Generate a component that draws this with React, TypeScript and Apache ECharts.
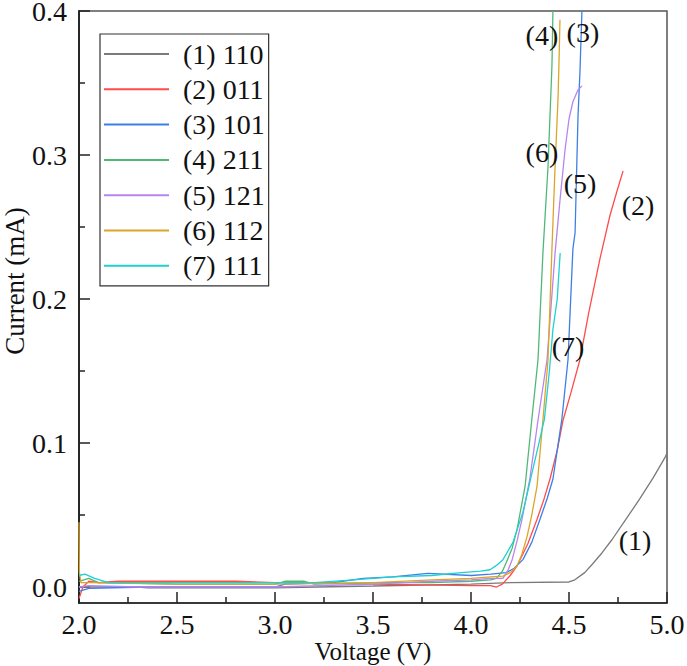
import React, { useEffect, useRef } from "react";
import * as echarts from "echarts";

const seriesNames = ["(1) 110", "(2) 011", "(3) 101", "(4) 211", "(5) 121", "(6) 112", "(7) 111"];
const seriesColors = ["#7a7a7a", "#ff4b4b", "#3d7fe6", "#4fb878", "#b884ee", "#dba628", "#1fd0d0"];

const s1: number[][] = [[2.0,0.0],[2.3,0.0],[2.35,-0.0005],[3.0,-0.0005],[3.5,0.0007],[4.0,0.002],[4.2,0.003],[4.5,0.0035],[4.53,0.005],[4.58,0.01],[4.62,0.016],[4.67,0.024],[4.72,0.033],[4.79,0.047],[4.86,0.061],[4.93,0.076],[4.99,0.09],[5.0,0.093]];
const s2: number[][] = [[2.0,-0.008],[2.02,0.0],[2.05,0.004],[2.1,0.003],[2.2,0.004],[2.5,0.004],[2.8,0.004],[3.0,0.003],[3.5,0.002],[4.0,0.001],[4.1,0.001],[4.13,0.0],[4.16,0.002],[4.2,0.008],[4.235,0.0146],[4.29,0.03],[4.337,0.047],[4.37,0.06],[4.403,0.075],[4.44,0.095],[4.47,0.116],[4.51,0.135],[4.556,0.158],[4.6,0.19],[4.658,0.228],[4.709,0.258],[4.745,0.275],[4.776,0.289]];
const s3: number[][] = [[2.0,-0.003],[2.05,-0.001],[2.35,0.0],[3.0,0.0],[3.05,0.002],[3.3,0.003],[3.45,0.006],[3.6,0.007],[3.78,0.0095],[4.0,0.008],[4.1,0.009],[4.18,0.01],[4.22,0.013],[4.265,0.019],[4.31,0.031],[4.352,0.047],[4.39,0.062],[4.418,0.075],[4.44,0.095],[4.464,0.117],[4.495,0.158],[4.52,0.235],[4.531,0.246],[4.546,0.327],[4.556,0.358],[4.566,0.4]];
const s4: number[][] = [[2.0,0.004],[2.05,0.006],[2.1,0.003],[2.5,0.002],[3.0,0.002],[3.05,0.004],[3.15,0.004],[3.2,0.002],[3.5,0.003],[3.8,0.003],[4.0,0.004],[4.1,0.005],[4.13,0.006],[4.16,0.011],[4.18,0.017],[4.21,0.027],[4.235,0.04],[4.276,0.07],[4.31,0.116],[4.342,0.158],[4.367,0.232],[4.393,0.292],[4.413,0.362],[4.418,0.4]];
const s5: number[][] = [[2.0,0.0],[2.05,0.001],[2.3,0.0],[3.0,0.0],[3.5,0.002],[3.8,0.004],[4.0,0.005],[4.1,0.006],[4.163,0.006],[4.19,0.012],[4.21,0.019],[4.235,0.032],[4.26,0.047],[4.3,0.075],[4.342,0.116],[4.388,0.158],[4.429,0.232],[4.455,0.27],[4.48,0.304],[4.5,0.325],[4.52,0.337],[4.545,0.345],[4.566,0.348]];
const s6: number[][] = [[2.0,0.045],[2.002,0.01],[2.01,0.003],[2.05,0.003],[2.5,0.002],[3.0,0.002],[3.5,0.003],[3.8,0.005],[4.0,0.006],[4.1,0.007],[4.163,0.0076],[4.2,0.01],[4.235,0.0146],[4.26,0.023],[4.286,0.035],[4.31,0.05],[4.337,0.07],[4.367,0.116],[4.393,0.158],[4.413,0.235],[4.429,0.292],[4.444,0.339],[4.45,0.37],[4.454,0.394]];
const s7: number[][] = [[2.0,0.008],[2.03,0.009],[2.08,0.006],[2.15,0.003],[2.5,0.003],[3.0,0.003],[3.2,0.003],[3.4,0.005],[3.6,0.007],[3.8,0.008],[3.95,0.01],[4.05,0.011],[4.097,0.012],[4.13,0.015],[4.163,0.019],[4.214,0.031],[4.265,0.052],[4.316,0.082],[4.35,0.102],[4.375,0.117],[4.4,0.15],[4.418,0.179],[4.44,0.2],[4.455,0.232]];
const seriesData = [s1, s2, s3, s4, s5, s6, s7];

const annotationTexts = ["(1)", "(2)", "(3)", "(4)", "(5)", "(6)", "(7)"];
const annotationCoords: number[][] = [[4.837,0.0326],[4.852,0.265],[4.571,0.385],[4.362,0.383],[4.556,0.28],[4.362,0.302],[4.495,0.167]];

const yTicks = [0.0, 0.1, 0.2, 0.3, 0.4];
const yMinorTicks = [0.05, 0.15, 0.25, 0.35];

const FONT = "Liberation Serif";

export default function App() {
  const ref = useRef<HTMLDivElement>(null);
  useEffect(() => {
    if (!ref.current) return;
    const chart = echarts.init(ref.current, null, { renderer: "svg" });
    const axisColor = "#222";
    chart.setOption({
      animation: false,
      backgroundColor: "#fff",
      grid: { left: 79, right: 20, top: 11, bottom: 63, show: true, borderColor: "#555", borderWidth: 1.5, outerBoundsMode: "none", containLabel: false },
      legend: {
        orient: "vertical",
        left: 100,
        top: 34,
        padding: [6, 4, 6, 4],
        borderColor: "#333",
        borderWidth: 1.2,
        backgroundColor: "#fff",
        itemWidth: 65,
        itemHeight: 2,
        itemGap: 7.3,
        icon: "rect",
        textStyle: { fontFamily: FONT, fontSize: 28, color: "#111", lineHeight: 28, padding: [0, 0, 0, 9] },
        data: seriesNames,
      },
      xAxis: {
        type: "value",
        min: 2,
        max: 5,
        interval: 0.5,
        name: "Voltage (V)",
        nameLocation: "middle",
        nameGap: 36,
        nameMoveOverlap: false,
        nameTextStyle: { fontFamily: FONT, fontSize: 25, color: "#111", lineHeight: 24 },
        axisLine: { show: true, onZero: false, lineStyle: { color: axisColor, width: 1.5 } },
        axisTick: { show: true, inside: true, length: 11, lineStyle: { color: axisColor, width: 1.5 } },
        minorTick: { show: true, splitNumber: 2, length: 6, lineStyle: { color: axisColor, width: 1.5 } },
        axisLabel: { fontFamily: FONT, fontSize: 28, color: "#111", margin: 9, lineHeight: 24, formatter: (v: number) => v.toFixed(1) },
        splitLine: { show: false },
      },
      yAxis: [
        {
          type: "value",
          min: -0.0111,
          max: 0.4,
          name: "Current (mA)",
          nameLocation: "middle",
          nameGap: 51,
          nameMoveOverlap: false,
          nameTextStyle: { fontFamily: FONT, fontSize: 27, color: "#111", padding: [0, 0, 0, 52] },
          axisLine: { show: true, onZero: false, lineStyle: { color: axisColor, width: 1.5 } },
          axisTick: { show: true, inside: true, length: 11, customValues: yTicks, lineStyle: { color: axisColor, width: 1.5 } },
          axisLabel: { fontFamily: FONT, fontSize: 28, color: "#111", margin: 12, lineHeight: 22, customValues: yTicks, formatter: (v: number) => v.toFixed(1) },
          splitLine: { show: false },
        },
        {
          type: "value",
          min: -0.0111,
          max: 0.4,
          position: "left",
          axisLine: { show: true, onZero: false, lineStyle: { color: axisColor, width: 1.5 } },
          axisTick: { show: true, inside: true, length: 6, customValues: yMinorTicks, lineStyle: { color: axisColor, width: 1.5 } },
          axisLabel: { show: false, customValues: yMinorTicks },
          splitLine: { show: false },
        },
      ],
      series: seriesNames.map((name, i) => ({
        name,
        type: "line",
        data: seriesData[i],
        symbol: "none",
        lineStyle: { color: seriesColors[i], width: 1.3 },
        itemStyle: { color: seriesColors[i] },
        markPoint: {
          symbol: "circle",
          symbolSize: 1,
          itemStyle: { color: "rgba(0,0,0,0)" },
          label: { show: true, position: "inside", formatter: annotationTexts[i], fontFamily: FONT, fontSize: 28, color: "#111" },
          data: [{ coord: annotationCoords[i] }],
        },
      })),
    });
    return () => chart.dispose();
  }, []);
  return <div ref={ref} style={{ width: 687, height: 666, position: "absolute", left: 0, top: 0 }} />;
}
